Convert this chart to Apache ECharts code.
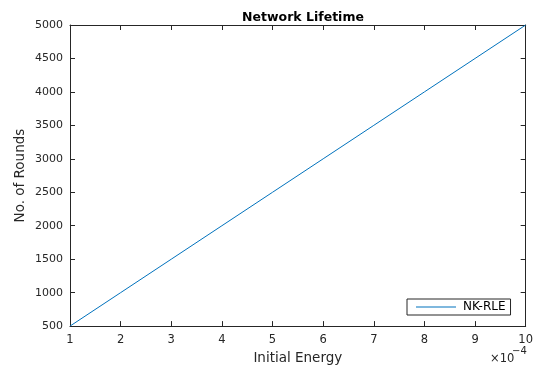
<!DOCTYPE html>
<html>
<head>
<meta charset="utf-8">
<script src="https://cdn.jsdelivr.net/npm/echarts@6/dist/echarts.min.js"></script>
<style>
  html, body { margin: 0; padding: 0; background: #fff; }
  #chart { width: 536px; height: 370px; }
</style>
</head>
<body>
<div id="chart"></div>
<script>
// Initial energy, in units of 1e-4 (the axis carries the ×10^-4 multiplier)
const energy = [1, 2, 3, 4, 5, 6, 7, 8, 9, 10];
// Network lifetime in rounds for NK-RLE
const rounds = [500, 1000, 1500, 2000, 2500, 3000, 3500, 4000, 4500, 5000];
const seriesName = 'NK-RLE';

const FONT = 'DejaVu Sans';
const INK = '#262626';

const chart = echarts.init(document.getElementById('chart'), null, { renderer: 'canvas' });

const frameAxis = {
  axisLine: { show: true, onZero: false, lineStyle: { color: INK, width: 1 } },
  axisTick: { show: true, inside: true, length: 5, lineStyle: { color: INK, width: 1 } },
  splitLine: { show: false }
};

const plain = v => String(v);

chart.setOption({
  animation: false,
  backgroundColor: '#fff',
  title: {
    text: 'Network Lifetime',
    left: 298, top: 6, textAlign: 'center',
    textStyle: { fontFamily: FONT, fontSize: 12.5, fontWeight: 'bold', color: '#000' }
  },
  grid: { left: 70, right: 10, top: 25, bottom: 42, containLabel: false },
  legend: {
    data: [seriesName],
    left: 407, top: 299,
    padding: [2, 5, 2, 9],
    itemWidth: 40, itemHeight: 1, itemGap: 0,
    icon: 'rect',
    backgroundColor: '#fff',
    borderColor: INK, borderWidth: 1,
    textStyle: { fontFamily: FONT, fontSize: 12, color: '#000', padding: [0, 0, 0, 2] }
  },
  xAxis: [
    Object.assign({
      type: 'value', position: 'bottom', min: 1, max: 10, interval: 1,
      name: 'Initial Energy', nameLocation: 'middle', nameGap: 21,
      nameTextStyle: { fontFamily: FONT, fontSize: 13.5, color: INK },
      axisLabel: { fontFamily: FONT, fontSize: 11.5, color: INK, margin: 8, formatter: plain }
    }, frameAxis),
    Object.assign({
      type: 'value', position: 'top', min: 1, max: 10, interval: 1,
      axisLabel: { show: false }
    }, frameAxis)
  ],
  yAxis: [
    Object.assign({
      type: 'value', position: 'left', min: 500, max: 5000, interval: 500,
      name: 'No. of Rounds', nameLocation: 'middle', nameGap: 43, nameMoveOverlap: false,
      nameTextStyle: { fontFamily: FONT, fontSize: 13.5, color: INK },
      axisLabel: { fontFamily: FONT, fontSize: 11, color: INK, margin: 7, formatter: plain }
    }, frameAxis),
    Object.assign({
      type: 'value', position: 'right', min: 500, max: 5000, interval: 500,
      axisLabel: { show: false }
    }, frameAxis)
  ],
  series: [{
    name: seriesName,
    type: 'line',
    xAxisIndex: 0, yAxisIndex: 0,
    data: energy.map((e, i) => [e, rounds[i]]),
    showSymbol: false,
    lineStyle: { color: '#0072BD', width: 1 },
    itemStyle: { color: '#0072BD' }
  }],
  graphic: [
    {
      type: 'text', left: 490, top: 353,
      style: { text: '×10', fontFamily: FONT, fontSize: 11.5, fill: INK }
    },
    {
      type: 'text', left: 512, top: 346,
      style: { text: '\u22124', fontFamily: FONT, fontSize: 10, fill: INK }
    }
  ]
});
</script>
</body>
</html>
